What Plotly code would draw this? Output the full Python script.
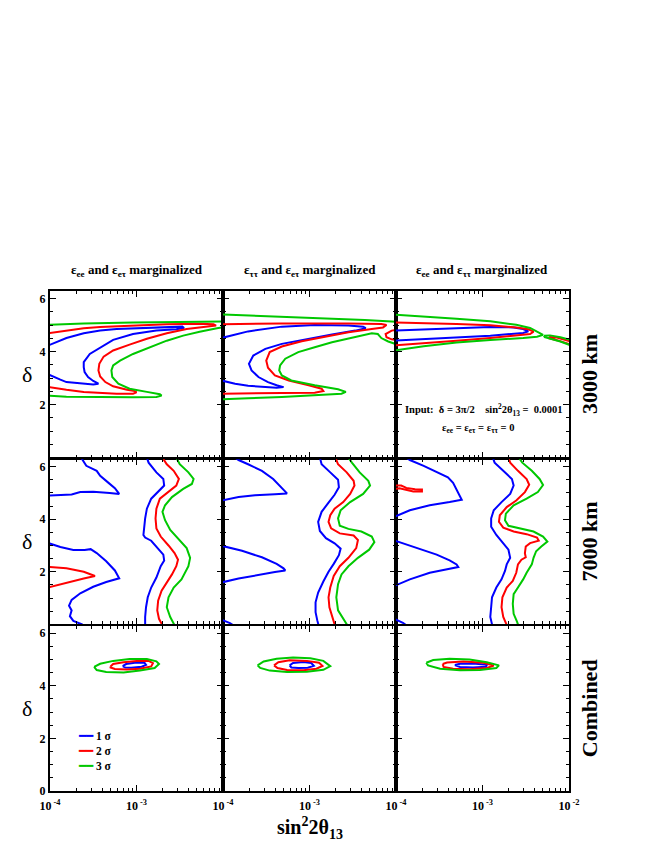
import plotly.graph_objects as go

TWO_PI = 6.283185307

# ---------------- data: log10(sin^2 2theta13) and delta (rad) ----------------
# Row 1 : 3000 km
R1C1_BLUE_LOGS = [-4.02,-3.81,-3.61,-3.42,-3.23,-2.96,-2.65,-2.47,-2.45,-2.54,-2.77,-3.04,-3.27,-3.42,-3.54,-3.61,-3.61,-3.60,-3.56,-3.50,-3.44,-3.50,-3.61,-3.73,-3.81,-3.88,-3.96,-4.02]
R1C1_BLUE_DELTA = [4.23,4.51,4.69,4.79,4.85,4.89,4.93,4.94,4.89,4.84,4.79,4.66,4.44,4.16,3.91,3.60,3.41,3.23,3.04,2.89,2.79,2.76,2.79,2.81,2.85,2.94,3.04,3.14]
R1C1_RED_LOGS = [-4.02,-3.81,-3.61,-3.42,-3.04,-2.65,-2.27,-2.11,-2.08,-2.19,-2.42,-2.65,-2.88,-3.08,-3.27,-3.38,-3.43,-3.44,-3.42,-3.36,-3.27,-3.11,-3.02,-3.00,-3.04,-3.23,-3.42,-3.61,-3.81,-4.02]
R1C1_RED_DELTA = [4.69,4.79,4.88,4.93,4.99,5.03,5.05,5.03,4.98,4.94,4.85,4.69,4.48,4.26,4.04,3.81,3.54,3.29,3.06,2.85,2.69,2.56,2.51,2.46,2.41,2.41,2.44,2.48,2.56,2.66]
R1C1_GREEN_LOGS = [-4.02,-3.61,-3.04,-2.46,-1.96,-1.92,-2.07,-2.27,-2.46,-2.65,-2.84,-3.04,-3.19,-3.27,-3.29,-3.28,-3.21,-3.08,-2.88,-2.73,-2.71,-2.77,-3.04,-3.42,-3.81,-4.02]
R1C1_GREEN_DELTA = [5.01,5.06,5.10,5.13,5.13,4.95,4.88,4.75,4.60,4.41,4.16,3.91,3.66,3.48,3.29,3.04,2.79,2.60,2.48,2.39,2.34,2.29,2.28,2.28,2.30,2.34]

R1C2_BLUE_LOGS = [-4.02,-3.71,-3.32,-2.94,-2.55,-2.38,-2.35,-2.47,-2.74,-3.01,-3.32,-3.51,-3.65,-3.70,-3.67,-3.59,-3.48,-3.38,-3.30,-3.38,-3.51,-3.71,-3.86,-4.02]
R1C2_BLUE_DELTA = [4.51,4.76,4.94,5.00,4.98,4.94,4.88,4.79,4.64,4.48,4.29,4.10,3.85,3.54,3.29,3.04,2.85,2.73,2.66,2.64,2.66,2.71,2.79,2.91]
R1C2_RED_LOGS = [-4.02,-3.32,-2.55,-2.17,-2.11,-2.15,-2.28,-2.55,-2.82,-3.09,-3.32,-3.46,-3.50,-3.48,-3.40,-3.24,-3.01,-2.86,-2.84,-2.94,-3.32,-3.71,-4.02,
                 None, -1.93,-2.05,-2.12,-2.11,-2.05,-1.93]
R1C2_RED_DELTA = [5.03,5.06,5.06,5.04,5.00,4.91,4.85,4.73,4.56,4.39,4.19,3.98,3.66,3.39,3.10,2.91,2.73,2.60,2.51,2.45,2.44,2.43,2.41,
                  None, 4.85,4.79,4.66,4.54,4.46,4.41]
R1C2_GREEN_LOGS = [-4.02,-3.51,-2.94,-2.36,-1.99,-1.93,-1.93,-2.09,-2.17,-2.21,-2.28,-2.47,-2.74,-2.94,-3.13,-3.28,-3.34,-3.35,-3.32,-3.21,-2.94,-2.67,-2.58,-2.63,-2.94,-3.32,-3.71,-4.02]
R1C2_GREEN_DELTA = [5.40,5.34,5.26,5.19,5.12,5.12,4.20,4.38,4.51,4.66,4.69,4.56,4.35,4.16,3.98,3.73,3.48,3.29,3.10,2.91,2.73,2.58,2.48,2.41,2.35,2.29,2.24,2.20]

R1C3_BLUE_LOGS = [-4.02,-3.68,-3.30,-2.91,-2.64,-2.53,-2.47,-2.53,-2.91,-3.30,-3.68,-4.02]
R1C3_BLUE_DELTA = [4.79,4.84,4.89,4.93,4.91,4.85,4.76,4.70,4.60,4.53,4.46,4.41]
R1C3_RED_LOGS = [-4.02,-3.68,-3.30,-2.91,-2.61,-2.47,-2.41,-2.45,-2.61,-2.91,-3.30,-3.68,-4.02,
                 None, -2.23,-2.14,-2.00,-1.95,-1.95,-2.00,-2.14,-2.23,-2.23]
R1C3_RED_DELTA = [5.10,5.08,5.04,4.99,4.91,4.84,4.75,4.66,4.60,4.51,4.41,4.31,4.23,
                  None, 4.55,4.53,4.40,4.36,4.25,4.28,4.43,4.50,4.55]
R1C3_GREEN_LOGS = [-4.02,-3.68,-3.30,-2.91,-2.61,-2.45,-2.35,-2.30,-2.37,-2.53,-2.91,-3.30,-3.68,-4.02,
                   None, -2.29,-2.22,-2.10,-2.00,-1.95,-1.95,-2.00,-2.10,-2.22,-2.28,-2.29]
R1C3_GREEN_DELTA = [5.39,5.33,5.24,5.14,5.01,4.89,4.73,4.63,4.56,4.51,4.44,4.34,4.20,4.04,
                    None, 4.60,4.61,4.54,4.45,4.41,4.23,4.26,4.38,4.48,4.54,4.60]

# Row 2 : 7000 km
R2C1_BLUE_LOGS = [-3.64,-3.58,-3.46,-3.42,-3.33,-3.25,-3.20,-3.31,-3.50,-3.65,-3.75,-3.88,-4.02,
                  None, -4.02,-3.88,-3.73,-3.60,-3.53,-3.46,-3.35,-3.25,-3.20,-3.35,-3.50,-3.65,-3.75,-3.78,-3.75,-3.77,-3.73,-3.63,-3.61,
                  None, -2.88,-2.86,-2.77,-2.69,-2.68,-2.77,-2.83,-2.88,-2.90,-2.92,-2.90,-2.83,-2.75,-2.69,-2.68,-2.72,-2.77,-2.83,-2.87,-2.89,-2.90,-2.90]
R2C1_BLUE_DELTA = [6.34,6.03,5.84,5.65,5.40,5.18,4.96,5.00,5.04,5.03,4.94,4.93,4.90,
                   None, 3.09,2.94,2.83,2.83,2.86,2.71,2.40,2.05,1.75,1.61,1.43,1.18,0.93,0.71,0.53,0.31,0.13,0.00,-0.10,
                   None, 6.34,6.15,5.78,5.53,5.28,4.96,4.78,4.40,4.03,3.40,3.30,3.18,2.90,2.65,2.43,2.21,1.78,1.40,1.03,0.65,0.28,-0.10]
R2C1_RED_LOGS = [-4.02,-3.81,-3.61,-3.48,-3.61,-3.81,-4.02,
                 None, -2.70,-2.65,-2.57,-2.51,-2.54,-2.63,-2.73,-2.77,-2.78,-2.77,-2.72,-2.63,-2.56,-2.52,-2.54,-2.59,-2.65,-2.71,-2.75,-2.76,-2.74,-2.69]
R2C1_RED_DELTA = [2.19,2.13,2.00,1.84,1.74,1.58,1.40,
                  None, 6.34,6.09,5.84,5.53,5.28,5.05,4.78,4.40,4.03,3.65,3.34,3.00,2.71,2.46,2.21,1.90,1.59,1.28,0.90,0.53,0.21,-0.10]
R2C1_GREEN_LOGS = [-2.54,-2.50,-2.40,-2.34,-2.36,-2.46,-2.59,-2.67,-2.70,-2.67,-2.61,-2.52,-2.42,-2.38,-2.40,-2.48,-2.57,-2.63,-2.65,-2.61,-2.57,-2.55]
R2C1_GREEN_DELTA = [6.34,6.09,5.78,5.53,5.34,5.15,4.84,4.53,4.28,3.96,3.59,3.28,2.90,2.53,2.21,1.71,1.40,1.03,0.65,0.28,0.00,-0.10]

R2C2_BLUE_LOGS = [-3.86,-3.82,-3.71,-3.55,-3.42,-3.32,-3.26,-3.40,-3.63,-3.82,-4.02,
                  None, -4.02,-3.78,-3.55,-3.38,-3.30,-3.28,-3.40,-3.63,-3.82,-4.02,
                  None, -4.02,-3.92,-3.88,
                  None, -2.88,-2.86,-2.76,-2.67,-2.66,-2.71,-2.78,-2.86,-2.90,-2.88,-2.81,-2.71,-2.64,-2.66,-2.72,-2.78,-2.84,-2.90,-2.93,-2.93,-2.91,-2.89]
R2C2_BLUE_DELTA = [6.34,6.25,6.09,5.84,5.53,5.21,4.98,4.95,4.91,4.84,4.71,
                   None, 2.99,2.80,2.55,2.30,2.13,2.05,1.99,1.86,1.74,1.59,
                   None, 0.18,0.05,-0.04,
                   None, 6.34,6.09,5.78,5.50,5.21,4.93,4.63,4.28,3.90,3.55,3.28,3.08,2.88,2.63,2.30,2.00,1.63,1.21,0.84,0.46,0.15,-0.10]
R2C2_RED_LOGS = [-2.70,-2.67,-2.57,-2.49,-2.48,-2.53,-2.61,-2.71,-2.76,-2.78,-2.75,-2.65,-2.49,-2.44,-2.46,-2.55,-2.65,-2.72,-2.76,-2.78,-2.77,-2.74,-2.71,-2.69]
R2C2_RED_DELTA = [6.34,6.09,5.78,5.46,5.28,4.96,4.65,4.40,4.15,3.90,3.65,3.46,3.38,3.21,2.90,2.53,2.21,1.84,1.40,1.03,0.65,0.28,0.00,-0.10]
R2C2_GREEN_LOGS = [-2.55,-2.51,-2.42,-2.32,-2.30,-2.38,-2.53,-2.64,-2.67,-2.65,-2.55,-2.40,-2.28,-2.25,-2.31,-2.44,-2.55,-2.63,-2.67,-2.69,-2.67,-2.61,-2.57,-2.55]
R2C2_GREEN_DELTA = [6.34,6.15,5.78,5.46,5.28,4.96,4.65,4.34,4.03,3.75,3.63,3.53,3.34,3.13,2.84,2.53,2.21,1.90,1.53,1.03,0.53,0.21,0.00,-0.10]

R2C3_BLUE_LOGS = [-3.88,-3.84,-3.68,-3.53,-3.40,-3.34,-3.29,-3.24,-3.38,-3.61,-3.84,-4.02,
                  None, -4.02,-3.76,-3.53,-3.38,-3.30,-3.28,-3.41,-3.61,-3.84,-4.02,
                  None, -4.02,-3.92,-3.88,
                  None, -2.88,-2.86,-2.76,-2.66,-2.64,-2.68,-2.78,-2.87,-2.90,-2.90,-2.84,-2.76,-2.70,-2.68,-2.72,-2.74,-2.78,-2.84,-2.89,-2.90,-2.91,-2.89,-2.89]
R2C3_BLUE_DELTA = [6.34,6.25,6.03,5.80,5.59,5.38,5.05,4.74,4.65,4.53,4.34,4.09,
                   None, 3.19,2.90,2.65,2.43,2.28,2.18,2.09,1.96,1.71,1.46,
                   None, 0.21,0.06,-0.04,
                   None, 6.34,6.15,5.84,5.53,5.28,4.96,4.65,4.34,4.03,3.71,3.40,3.09,2.84,2.53,2.28,2.03,1.71,1.40,1.03,0.65,0.28,0.00,-0.10]
R2C3_RED_LOGS = [-4.02,-3.94,-3.88,-3.78,-3.70,-3.70,-3.80,-3.88,-3.96,-4.02,
                 None, -2.70,-2.68,-2.59,-2.49,-2.46,-2.51,-2.61,-2.72,-2.80,-2.81,-2.76,-2.64,-2.49,-2.37,-2.35,-2.45,-2.50,-2.51,-2.50,-2.55,-2.59,-2.61,-2.65,-2.72,-2.77,-2.78,-2.76,-2.72,-2.71]
R2C3_RED_DELTA = [5.28,5.28,5.19,5.14,5.13,5.05,5.05,5.11,5.18,5.15,
                  None, 6.34,6.15,5.84,5.53,5.31,5.03,4.71,4.46,4.15,3.90,3.68,3.53,3.43,3.30,3.18,3.09,2.96,2.71,2.55,2.46,2.28,1.96,1.65,1.40,1.03,0.65,0.28,0.00,-0.10]
R2C3_GREEN_LOGS = [-2.58,-2.54,-2.43,-2.34,-2.30,-2.36,-2.49,-2.64,-2.73,-2.74,-2.70,-2.57,-2.41,-2.30,-2.25,-2.32,-2.38,-2.41,-2.43,-2.49,-2.53,-2.59,-2.64,-2.65,-2.64,-2.60,-2.58]
R2C3_GREEN_DELTA = [6.34,6.15,5.84,5.53,5.30,5.03,4.78,4.53,4.21,3.96,3.75,3.65,3.53,3.34,3.15,2.96,2.78,2.53,2.28,1.96,1.71,1.40,1.15,0.78,0.40,0.09,-0.10]

# Row 3 : Combined
R3C1_BLUE_LOGS = [-3.16,-3.12,-3.02,-2.91,-2.89,-2.94,-3.06,-3.13,-3.16]
R3C1_BLUE_DELTA = [4.75,4.83,4.88,4.89,4.80,4.73,4.69,4.70,4.75]
R3C1_RED_LOGS = [-3.30,-3.27,-3.15,-3.00,-2.86,-2.81,-2.83,-2.96,-3.11,-3.25,-3.30,-3.30]
R3C1_RED_DELTA = [4.74,4.83,4.90,4.95,4.95,4.86,4.74,4.65,4.62,4.64,4.70,4.74]
R3C1_GREEN_LOGS = [-3.49,-3.42,-3.27,-3.08,-2.88,-2.77,-2.74,-2.79,-2.96,-3.15,-3.35,-3.46,-3.49]
R3C1_GREEN_DELTA = [4.72,4.84,4.95,5.02,5.02,4.93,4.83,4.68,4.58,4.51,4.53,4.60,4.72]

R3C2_BLUE_LOGS = [-3.23,-3.19,-3.07,-2.98,-2.95,-3.02,-3.13,-3.21,-3.23]
R3C2_BLUE_DELTA = [4.78,4.87,4.91,4.87,4.76,4.69,4.68,4.70,4.78]
R3C2_RED_LOGS = [-3.41,-3.36,-3.23,-3.03,-2.89,-2.85,-2.92,-3.07,-3.26,-3.37,-3.41]
R3C2_RED_DELTA = [4.78,4.90,4.97,4.95,4.88,4.76,4.65,4.59,4.60,4.68,4.78]
R3C2_GREEN_LOGS = [-3.60,-3.53,-3.38,-3.19,-2.99,-2.84,-2.76,-2.84,-3.03,-3.26,-3.46,-3.57,-3.60]
R3C2_GREEN_DELTA = [4.78,4.93,5.03,5.08,5.05,4.95,4.75,4.61,4.54,4.53,4.58,4.68,4.78]

R3C3_BLUE_LOGS = [-3.32,-3.26,-3.11,-2.95,-2.96,-3.11,-3.26,-3.32]
R3C3_BLUE_DELTA = [4.79,4.84,4.85,4.80,4.73,4.70,4.72,4.79]
R3C3_RED_LOGS = [-3.46,-3.41,-3.22,-2.99,-2.87,-2.95,-3.15,-3.34,-3.45,-3.46]
R3C3_RED_DELTA = [4.83,4.89,4.93,4.88,4.77,4.68,4.63,4.65,4.72,4.83]
R3C3_GREEN_LOGS = [-3.65,-3.57,-3.38,-3.15,-2.95,-2.81,-2.84,-3.03,-3.26,-3.49,-3.63,-3.65]
R3C3_GREEN_DELTA = [4.88,4.98,5.03,5.00,4.90,4.78,4.68,4.60,4.59,4.65,4.78,4.88]

# labels
COLUMN_TITLES = ["ε<sub>ee</sub> and ε<sub>eτ</sub> marginalized",
                 "ε<sub>ττ</sub> and ε<sub>eτ</sub> marginalized",
                 "ε<sub>ee</sub> and ε<sub>ττ</sub> marginalized"]
ROW_LABELS = ["3000 km", "7000 km", "Combined"]
SIGMA_NAMES = ["1 σ", "2 σ", "3 σ"]
SIGMA_COLORS = ["#0000ff", "#ff0000", "#00c800"]
X_TICK_EXP = [-4, -3, -2]
Y_TICKS = [0, 2, 4, 6]

PANELS = [
    [(R1C1_BLUE_LOGS, R1C1_BLUE_DELTA), (R1C1_RED_LOGS, R1C1_RED_DELTA), (R1C1_GREEN_LOGS, R1C1_GREEN_DELTA)],
    [(R1C2_BLUE_LOGS, R1C2_BLUE_DELTA), (R1C2_RED_LOGS, R1C2_RED_DELTA), (R1C2_GREEN_LOGS, R1C2_GREEN_DELTA)],
    [(R1C3_BLUE_LOGS, R1C3_BLUE_DELTA), (R1C3_RED_LOGS, R1C3_RED_DELTA), (R1C3_GREEN_LOGS, R1C3_GREEN_DELTA)],
    [(R2C1_BLUE_LOGS, R2C1_BLUE_DELTA), (R2C1_RED_LOGS, R2C1_RED_DELTA), (R2C1_GREEN_LOGS, R2C1_GREEN_DELTA)],
    [(R2C2_BLUE_LOGS, R2C2_BLUE_DELTA), (R2C2_RED_LOGS, R2C2_RED_DELTA), (R2C2_GREEN_LOGS, R2C2_GREEN_DELTA)],
    [(R2C3_BLUE_LOGS, R2C3_BLUE_DELTA), (R2C3_RED_LOGS, R2C3_RED_DELTA), (R2C3_GREEN_LOGS, R2C3_GREEN_DELTA)],
    [(R3C1_BLUE_LOGS, R3C1_BLUE_DELTA), (R3C1_RED_LOGS, R3C1_RED_DELTA), (R3C1_GREEN_LOGS, R3C1_GREEN_DELTA)],
    [(R3C2_BLUE_LOGS, R3C2_BLUE_DELTA), (R3C2_RED_LOGS, R3C2_RED_DELTA), (R3C2_GREEN_LOGS, R3C2_GREEN_DELTA)],
    [(R3C3_BLUE_LOGS, R3C3_BLUE_DELTA), (R3C3_RED_LOGS, R3C3_RED_DELTA), (R3C3_GREEN_LOGS, R3C3_GREEN_DELTA)],
]

SERIF = "Liberation Serif, Times New Roman, serif"


def to_x(logs):
    return [None if v is None else 10 ** v for v in logs]


fig = go.Figure()

# columns adjacent (double border ~4px), rows overlapped slightly (border ~2.5px)
COL_DOM = [[0.0, 1 / 3], [1 / 3, 2 / 3], [2 / 3, 1.0]]
GAP = 1.5 / 500
ROW_DOM = [[2 / 3, 1.0], [1 / 3, 2 / 3 - GAP], [0.0, 1 / 3 - GAP]]

minor_x = [m * 10 ** e for e in (-4, -3) for m in range(2, 10)]

layout_axes = {}
for p in range(9):
    r, c = divmod(p, 3)
    idx = p + 1
    xa = "x" if idx == 1 else f"x{idx}"
    ya = "y" if idx == 1 else f"y{idx}"
    for k, (logs, delta) in enumerate(PANELS[p]):
        fig.add_trace(go.Scatter(
            x=to_x(logs), y=delta, xaxis=xa, yaxis=ya, mode="lines",
            line=dict(color=SIGMA_COLORS[k], width=2),
            connectgaps=False, name=SIGMA_NAMES[k],
            showlegend=False, hoverinfo="skip"))

    xt_exp = X_TICK_EXP if c == 2 else X_TICK_EXP[:2]
    xkey = "xaxis" if idx == 1 else f"xaxis{idx}"
    ykey = "yaxis" if idx == 1 else f"yaxis{idx}"
    layout_axes[xkey] = dict(
        type="log", range=[-4, -2], domain=COL_DOM[c], anchor=ya,
        showline=True, linecolor="black", linewidth=2, mirror="allticks",
        ticks="inside", ticklen=6, tickwidth=1, tickcolor="black",
        tickmode="array", tickvals=[10 ** e for e in xt_exp],
        ticktext=[f"10<sup> {e}</sup>" for e in xt_exp],
        showticklabels=(r == 2), showgrid=False, zeroline=False,
        ticklabelstandoff=3,
        tickfont=dict(family=SERIF, size=12, color="black", weight="bold"),
        minor=dict(ticks="inside", ticklen=3, tickwidth=1, tickcolor="black",
                   tickmode="array", tickvals=minor_x, showgrid=False),
    )
    yt = Y_TICKS if r == 2 else Y_TICKS[1:]
    layout_axes[ykey] = dict(
        range=[0, TWO_PI], domain=ROW_DOM[r], anchor=xa,
        showline=True, linecolor="black", linewidth=2, mirror="allticks",
        ticks="inside", ticklen=6, tickwidth=1, tickcolor="black",
        tickmode="array", tickvals=yt, ticktext=[str(v) for v in yt],
        showticklabels=(c == 0), showgrid=False, zeroline=False,
        tickfont=dict(family=SERIF, size=12, color="black", weight="bold"),
        minor=dict(ticks="inside", ticklen=3, tickwidth=1, tickcolor="black",
                   dtick=0.5, tick0=0, showgrid=False),
    )

annotations = []
col_centers = [(d[0] + d[1]) / 2 for d in COL_DOM]
row_centers = [(d[0] + d[1]) / 2 for d in ROW_DOM]
for c, t in enumerate(COLUMN_TITLES):
    annotations.append(dict(text=f"<b>{t}</b>", x=col_centers[c], y=1.042, xref="paper", yref="paper",
                            showarrow=False, xanchor="center", yanchor="middle",
                            font=dict(family=SERIF, size=13, color="black")))
for r, t in enumerate(ROW_LABELS):
    annotations.append(dict(text=f"<b>{t}</b>", x=1.04, y=row_centers[r], xref="paper", yref="paper",
                            showarrow=False, textangle=-90, xanchor="center", yanchor="middle",
                            font=dict(family=SERIF, size=22, color="black")))
    annotations.append(dict(text="δ", x=-0.045, y=row_centers[r], xref="paper", yref="paper",
                            showarrow=False, xanchor="center", yanchor="middle",
                            font=dict(family=SERIF, size=22, color="black")))
annotations.append(dict(text="<b>sin<sup>2</sup>2θ<sub>13</sub></b>", x=0.5, y=-0.074, xref="paper", yref="paper",
                        showarrow=False, xanchor="center", yanchor="middle",
                        font=dict(family=SERIF, size=20, color="black")))
annotations.append(dict(text="<b>Input:  δ = 3π/2    sin<sup>2</sup>2θ<sub>13</sub> =  0.0001</b>",
                        x=0.836, y=0.763, xref="paper", yref="paper", showarrow=False,
                        xanchor="center", yanchor="middle",
                        font=dict(family=SERIF, size=10.5, color="black")))
annotations.append(dict(text="<b>ε<sub>ee</sub> = ε<sub>eτ</sub> = ε<sub>ττ</sub> = 0</b>",
                        x=0.825, y=0.725, xref="paper", yref="paper", showarrow=False,
                        xanchor="center", yanchor="middle",
                        font=dict(family=SERIF, size=10.5, color="black")))
# legend (key lines + labels) as one multi-line text block
legend_lines = [f"<span style='color:{col}'>━━</span> <b>{nm}</b>"
                for col, nm in zip(SIGMA_COLORS, SIGMA_NAMES)]
annotations.append(dict(text="<br>".join(legend_lines), x=0.05, y=0.08, xref="paper", yref="paper",
                        showarrow=False, xanchor="left", yanchor="middle", align="left",
                        font=dict(family=SERIF, size=11.5, color="black")))

fig.update_layout(
    width=646, height=838,
    margin=dict(l=42, r=85, t=283, b=55),
    paper_bgcolor="white", plot_bgcolor="white",
    annotations=annotations,
    showlegend=False,
    **layout_axes,
)

fig.write_html("out.html")
